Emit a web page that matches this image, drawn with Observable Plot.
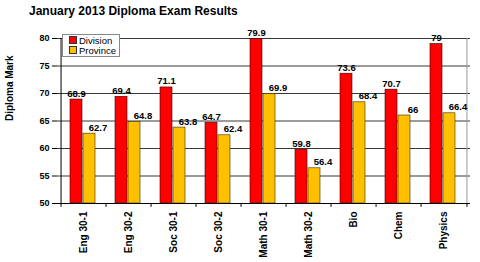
<!DOCTYPE html>
<html>
<head>
<meta charset="utf-8">
<script src="https://cdn.jsdelivr.net/npm/d3@7"></script>
<script src="https://cdn.jsdelivr.net/npm/@observablehq/plot@0.6"></script>
<style>
  html, body { margin: 0; padding: 0; background: #fff; }
  #wrap { position: relative; width: 480px; height: 262px; font-family: "Liberation Sans", Arial, sans-serif; }
  #title { position: absolute; left: 29px; top: 4px; font-size: 12px; font-weight: bold; line-height: 14px; color: #000; white-space: nowrap; }
  #legend { position: absolute; left: 62px; top: 34px; width: 56px; height: 21px; border: 1px solid #888; background: #fff; font-size: 9.5px; color: #000; }
  .li { position: absolute; left: 6px; height: 10px; line-height: 10px; white-space: nowrap; }
  .sw { display: inline-block; width: 6px; height: 6px; border: 0.5px solid #333; margin-right: 2px; vertical-align: 0px; }
</style>
</head>
<body>
<div id="wrap">
  <div id="chart"></div>
  <div id="title">January 2013 Diploma Exam Results</div>
  <div id="legend">
    <div class="li" style="top:1px"><span class="sw" style="background:#FF0000"></span>Division</div>
    <div class="li" style="top:11px"><span class="sw" style="background:#FFC000"></span>Province</div>
  </div>
</div>
<script>
const categories = ["Eng 30-1","Eng 30-2","Soc 30-1","Soc 30-2","Math 30-1","Math 30-2","Bio","Chem","Physics"];
const division = [68.9, 69.4, 71.1, 64.7, 79.9, 59.8, 73.6, 70.7, 79];
const province = [62.7, 64.8, 63.8, 62.4, 69.9, 56.4, 68.4, 66, 66.4];
const yTicks = [50, 55, 60, 65, 70, 75, 80];

const rows = categories.map((c, i) => ({category: c, division: division[i], province: province[i]}));

const W = 480, H = 262, mL = 57, mR = 10, mT = 38, mB = 59;
const half = (W - mL - mR) / categories.length / 2;
const fmt = v => String(v);

const chart = Plot.plot({
  width: W, height: H,
  marginTop: mT, marginBottom: mB, marginLeft: mL, marginRight: mR,
  style: {fontFamily: "'Liberation Sans', Arial, sans-serif", background: "#fff", color: "#000"},
  x: {domain: categories, padding: 0},
  y: {domain: [50, 80]},
  marks: [
    Plot.ruleY(yTicks.filter(t => t > 50), {stroke: "#222", strokeWidth: 0.9}),
    Plot.ruleX([categories[categories.length - 1]], {x: d => d, dx: half, y1: 50, y2: 80, stroke: "#999", strokeWidth: 1}),
    Plot.barY(rows, {x: "category", y1: 50, y2: "division", fill: "#FF0000", stroke: "#3a0000", strokeWidth: 0.6, insetLeft: 9, insetRight: 24}),
    Plot.barY(rows, {x: "category", y1: 50, y2: "province", fill: "#FFC000", stroke: "#3a2a00", strokeWidth: 0.6, insetLeft: 22, insetRight: 11}),
    Plot.ruleY([50], {stroke: "#000", strokeWidth: 1}),
    Plot.ruleX([categories[0]], {x: d => d, dx: -half, y1: 50, y2: 80, stroke: "#000", strokeWidth: 1}),
    Plot.ruleX(categories, {x: d => d, dx: -half, y1: 50, y2: 49.3, stroke: "#000"}),
    Plot.ruleX([categories[categories.length - 1]], {x: d => d, dx: half, y1: 50, y2: 49.3, stroke: "#000"}),
    Plot.axisY(yTicks, {tickSize: 5, tickPadding: 3, fontSize: 9, fontWeight: "bold", label: null}),
    Plot.axisX({tickSize: 0, tickRotate: -90, tickPadding: 8, fontSize: 10, fontWeight: "bold", label: null}),
    Plot.text(rows, {x: "category", y: "division", text: d => fmt(d.division), dx: -7.5, dy: -3, lineAnchor: "bottom", fontSize: 9.5, fontWeight: "bold", fill: "#000"}),
    Plot.text(rows, {x: "category", y: "province", text: d => fmt(d.province), dx: 14, dy: -3, lineAnchor: "bottom", fontSize: 9.5, fontWeight: "bold", fill: "#000"}),
    Plot.text(["Diploma Mark"], {frameAnchor: "left", text: d => d, rotate: -90, dx: -48, fontSize: 10, fontWeight: "bold", fill: "#000"})
  ]
});
document.getElementById("chart").appendChild(chart);
</script>
</body>
</html>
